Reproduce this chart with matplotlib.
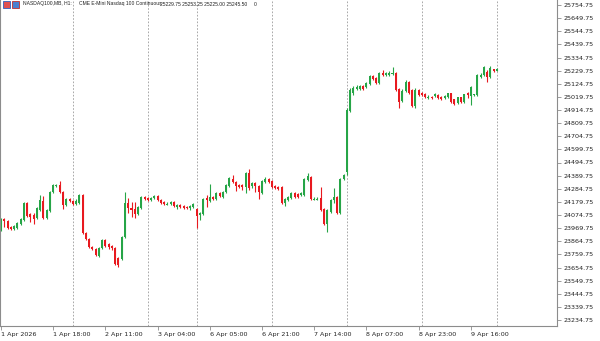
import numpy as np
import matplotlib
matplotlib.use("Agg")
import matplotlib.pyplot as plt
from matplotlib.patches import Rectangle

# hourly candles, NASDAQ100 (MB), 1 Apr 2026 .. 10 Apr 2026
opens = [23954.75, 24042.75, 24026.75, 23978.75, 23962.75, 23970.75, 24002.75, 24034.75, 24170.75, 24082.75,
         24074.75, 24050.75, 24114.75, 24186.75, 24050.75, 24106.75, 24258.75, 24306.75, 24314.75, 24258.75,
         24154.75, 24202.75, 24186.75, 24162.75, 24170.75, 24234.75, 23930.75, 23882.75, 23818.75, 23802.75,
         23746.75, 23810.75, 23874.75, 23842.75, 23826.75, 23810.75, 23730.75, 23722.75, 23898.75, 24170.75,
         24130.75, 24122.75, 24082.75, 24130.75, 24218.75, 24210.75, 24194.75, 24210.75, 24226.75, 24194.75,
         24178.75, 24158.75, 24162.75, 24178.75, 24138.75, 24154.75, 24146.75, 24138.75, 24130.75, 24138.75,
         24122.75, 24074.75, 24082.75, 24210.75, 24186.75, 24218.75, 24202.75, 24250.75, 24218.75, 24258.75,
         24306.75, 24362.75, 24338.75, 24314.75, 24314.75, 24298.75, 24410.75, 24306.75, 24330.75, 24306.75,
         24250.75, 24338.75, 24362.75, 24346.75, 24306.75, 24298.75, 24298.75, 24170.75, 24194.75, 24210.75,
         24250.75, 24242.75, 24234.75, 24234.75, 24354.75, 24378.75, 24198.75, 24198.75, 24210.75, 24122.75,
         24002.75, 24098.75, 24194.75, 24218.75, 24090.75, 24362.75, 24418.75, 24906.75, 25050.75, 25082.75,
         25082.75, 25106.75, 25098.75, 25122.75, 25186.75, 25170.75, 25130.75, 25210.75, 25194.75, 25194.75,
         25202.75, 25210.75, 25082.75, 24986.75, 25066.75, 25138.75, 25074.75, 24946.75, 25074.75, 25050.75,
         25042.75, 25010.75, 25022.75, 25026.75, 25034.75, 25022.75, 25008.25, 25021.25, 25048.25, 25000.25,
         24968.25, 25016.25, 24981.25, 25048.25, 25026.75, 25032.25, 25034.75, 25181.25, 25194.75, 25221.25,
         25181.25, 25240.25, 25229.75]
highs = [24050.75, 24050.75, 24034.75, 23986.75, 23994.75, 24018.75, 24050.75, 24178.75, 24178.75, 24090.75,
         24090.75, 24138.75, 24234.75, 24226.75, 24122.75, 24266.75, 24322.75, 24322.75, 24346.75, 24266.75,
         24210.75, 24210.75, 24194.75, 24202.75, 24242.75, 24242.75, 23938.75, 23890.75, 23826.75, 23810.75,
         23818.75, 23882.75, 23882.75, 23850.75, 23834.75, 23818.75, 23738.75, 23906.75, 24258.75, 24210.75,
         24178.75, 24178.75, 24146.75, 24226.75, 24226.75, 24218.75, 24218.75, 24234.75, 24234.75, 24202.75,
         24186.75, 24178.75, 24186.75, 24186.75, 24162.75, 24162.75, 24154.75, 24146.75, 24154.75, 24170.75,
         24130.75, 24098.75, 24210.75, 24234.75, 24322.75, 24226.75, 24258.75, 24258.75, 24266.75, 24322.75,
         24378.75, 24394.75, 24346.75, 24322.75, 24322.75, 24418.75, 24442.75, 24338.75, 24338.75, 24314.75,
         24354.75, 24378.75, 24370.75, 24354.75, 24314.75, 24306.75, 24306.75, 24210.75, 24226.75, 24258.75,
         24258.75, 24250.75, 24258.75, 24370.75, 24410.75, 24386.75, 24218.75, 24218.75, 24298.75, 24130.75,
         24122.75, 24202.75, 24290.75, 24226.75, 24370.75, 24402.75, 24930.75, 25090.75, 25106.75, 25114.75,
         25114.75, 25114.75, 25138.75, 25194.75, 25194.75, 25178.75, 25218.75, 25234.75, 25218.75, 25226.75,
         25258.75, 25218.75, 25090.75, 25082.75, 25154.75, 25146.75, 25082.75, 25090.75, 25082.75, 25058.75,
         25050.75, 25034.75, 25026.75, 25050.75, 25042.75, 25026.75, 25034.75, 25050.75, 25050.75, 25006.75,
         25022.75, 25022.75, 25046.75, 25061.25, 25106.75, 25046.75, 25202.75, 25210.75, 25266.75, 25234.75,
         25266.75, 25246.75, 25253.25]
lows = [23946.75, 23978.75, 23962.75, 23954.75, 23954.75, 23962.75, 23994.75, 24026.75, 24058.75, 24018.75,
        24002.75, 24042.75, 24106.75, 24042.75, 24042.75, 24098.75, 24250.75, 24298.75, 24250.75, 24122.75,
        24146.75, 24178.75, 24154.75, 24154.75, 24162.75, 23922.75, 23874.75, 23810.75, 23794.75, 23746.75,
        23738.75, 23802.75, 23818.75, 23802.75, 23794.75, 23674.75, 23658.75, 23714.75, 23890.75, 24090.75,
        24058.75, 24050.75, 24074.75, 24122.75, 24194.75, 24186.75, 24186.75, 24202.75, 24186.75, 24162.75,
        24154.75, 24154.75, 24154.75, 24138.75, 24122.75, 24130.75, 24122.75, 24122.75, 24114.75, 24130.75,
        23970.75, 24034.75, 24074.75, 24138.75, 24178.75, 24194.75, 24194.75, 24218.75, 24210.75, 24250.75,
        24298.75, 24330.75, 24266.75, 24290.75, 24274.75, 24250.75, 24274.75, 24290.75, 24258.75, 24202.75,
        24242.75, 24330.75, 24330.75, 24290.75, 24282.75, 24274.75, 24162.75, 24146.75, 24186.75, 24202.75,
        24210.75, 24210.75, 24226.75, 24226.75, 24346.75, 24194.75, 24194.75, 24194.75, 24106.75, 23994.75,
        23938.75, 24090.75, 24170.75, 24082.75, 24082.75, 24354.75, 24394.75, 24898.75, 25034.75, 25074.75,
        25074.75, 25074.75, 25090.75, 25114.75, 25154.75, 25122.75, 25122.75, 25186.75, 25186.75, 25186.75,
        25194.75, 25066.75, 24930.75, 24978.75, 25058.75, 25042.75, 24938.75, 24930.75, 25026.75, 25026.75,
        25010.75, 25002.75, 25002.75, 25018.75, 25006.75, 24994.75, 25002.75, 25014.75, 24974.75, 24954.75,
        24962.75, 24974.75, 24974.75, 25008.25, 24954.75, 25026.75, 25026.75, 25174.75, 25186.75, 25141.25,
        25174.75, 25222.75, 25225.00]
closes = [24042.75, 24026.75, 23970.75, 23962.75, 23986.75, 24010.75, 24042.75, 24170.75, 24066.75, 24058.75,
          24042.75, 24130.75, 24194.75, 24050.75, 24114.75, 24258.75, 24314.75, 24314.75, 24258.75, 24154.75,
          24202.75, 24186.75, 24162.75, 24186.75, 24234.75, 23930.75, 23882.75, 23818.75, 23802.75, 23754.75,
          23810.75, 23874.75, 23826.75, 23818.75, 23810.75, 23682.75, 23674.75, 23898.75, 24170.75, 24130.75,
          24114.75, 24082.75, 24138.75, 24218.75, 24202.75, 24194.75, 24210.75, 24226.75, 24194.75, 24170.75,
          24162.75, 24166.75, 24178.75, 24146.75, 24154.75, 24138.75, 24130.75, 24130.75, 24146.75, 24162.75,
          24066.75, 24090.75, 24202.75, 24194.75, 24218.75, 24202.75, 24250.75, 24226.75, 24258.75, 24314.75,
          24370.75, 24338.75, 24306.75, 24298.75, 24298.75, 24410.75, 24290.75, 24330.75, 24306.75, 24258.75,
          24346.75, 24362.75, 24338.75, 24298.75, 24290.75, 24282.75, 24170.75, 24202.75, 24218.75, 24250.75,
          24218.75, 24218.75, 24250.75, 24362.75, 24386.75, 24202.75, 24206.75, 24206.75, 24114.75, 24002.75,
          24114.75, 24194.75, 24218.75, 24090.75, 24362.75, 24394.75, 24914.75, 25074.75, 25090.75, 25098.75,
          25106.75, 25082.75, 25130.75, 25186.75, 25162.75, 25130.75, 25210.75, 25194.75, 25210.75, 25210.75,
          25210.75, 25074.75, 24978.75, 25066.75, 25138.75, 25050.75, 24946.75, 25074.75, 25034.75, 25034.75,
          25022.75, 25022.75, 25010.75, 25042.75, 25013.25, 25002.75, 25026.75, 25048.25, 24981.25, 24962.75,
          25016.25, 24981.25, 25040.25, 25032.25, 25101.25, 25040.25, 25194.75, 25194.75, 25261.25, 25181.25,
          25248.25, 25229.25, 25245.50]

tick_bars = [0, 16, 32, 48, 64, 80, 96, 112, 128, 144]
tick_labels = ["1 Apr 2026", "1 Apr 18:00", "2 Apr 11:00", "3 Apr 04:00", "6 Apr 05:00",
               "6 Apr 21:00", "7 Apr 14:00", "8 Apr 07:00", "8 Apr 23:00", "9 Apr 16:00"]
day_starts = [22, 45, 60, 83, 106, 129, 152]
price_ticks = np.arange(23234.75, 25754.76, 105.0)

up_col = "#26a547"
down_col = "#e8191f"
frame_col = "#8c8c8c"
txt_col = "#222222"

fig = plt.figure(figsize=(6.0, 3.41), dpi=100)
ax = fig.add_axes([0.0, 15 / 341, 557 / 600, 326 / 341])

o = np.array(opens)
h = np.array(highs)
l = np.array(lows)
c = np.array(closes)
x = np.arange(len(o))
cols = np.where(c >= o, up_col, down_col)

ax.vlines(x, l, h, colors=cols, linewidth=0.8)
body = np.maximum(np.abs(c - o), 3)
ax.bar(x, body, bottom=np.minimum(o, c), width=0.62, color=cols, linewidth=0)

for d in day_starts:
    ax.axvline(d, color="#9a9a9a", linestyle=(0, (2, 2)), linewidth=0.6, zorder=0)

ax.set_xlim(-1 / 3.2625, 556 / 3.2625)
ax.set_ylim(25794.75 - 326 * 8, 25794.75)

ax.yaxis.tick_right()
ax.set_yticks(price_ticks)
ax.set_yticklabels(["%.2f" % p for p in price_ticks])
ax.set_xticks(tick_bars)
ax.set_xticklabels(tick_labels, ha="left")
ax.tick_params(axis="both", labelsize=4.6, length=3, width=0.6, color=frame_col,
               labelcolor=txt_col, pad=1.5)

ax.spines["top"].set_visible(False)
for s in ["left", "bottom", "right"]:
    ax.spines[s].set_color(frame_col)
    ax.spines[s].set_linewidth(0.8)

# header line
hdr = dict(fontsize=3.6, va="center", color=txt_col, family="Liberation Sans")
hy = 1 - 4 / 341
fig.text(23 / 600, hy, "NASDAQ100,MB, H1:", **hdr)
fig.text(79 / 600, hy, "CME E-Mini Nasdaq 100 Continuous", **hdr)
fig.text(160 / 600, hy, "%.2f %.2f %.2f %.2f" % (opens[-1], highs[-1], lows[-1], closes[-1]), **hdr)
fig.text(254 / 600, hy, "0", **hdr)
fig.patches.append(Rectangle((3 / 600, 1 - 8 / 341), 7 / 600, 7 / 341, transform=fig.transFigure,
                             facecolor="#e05050", edgecolor="#3060c0", linewidth=0.6))
fig.patches.append(Rectangle((12 / 600, 1 - 8 / 341), 7 / 600, 7 / 341, transform=fig.transFigure,
                             facecolor="#4a7fd0", edgecolor="#c03030", linewidth=0.6))

fig.savefig("out.png", dpi=100)
